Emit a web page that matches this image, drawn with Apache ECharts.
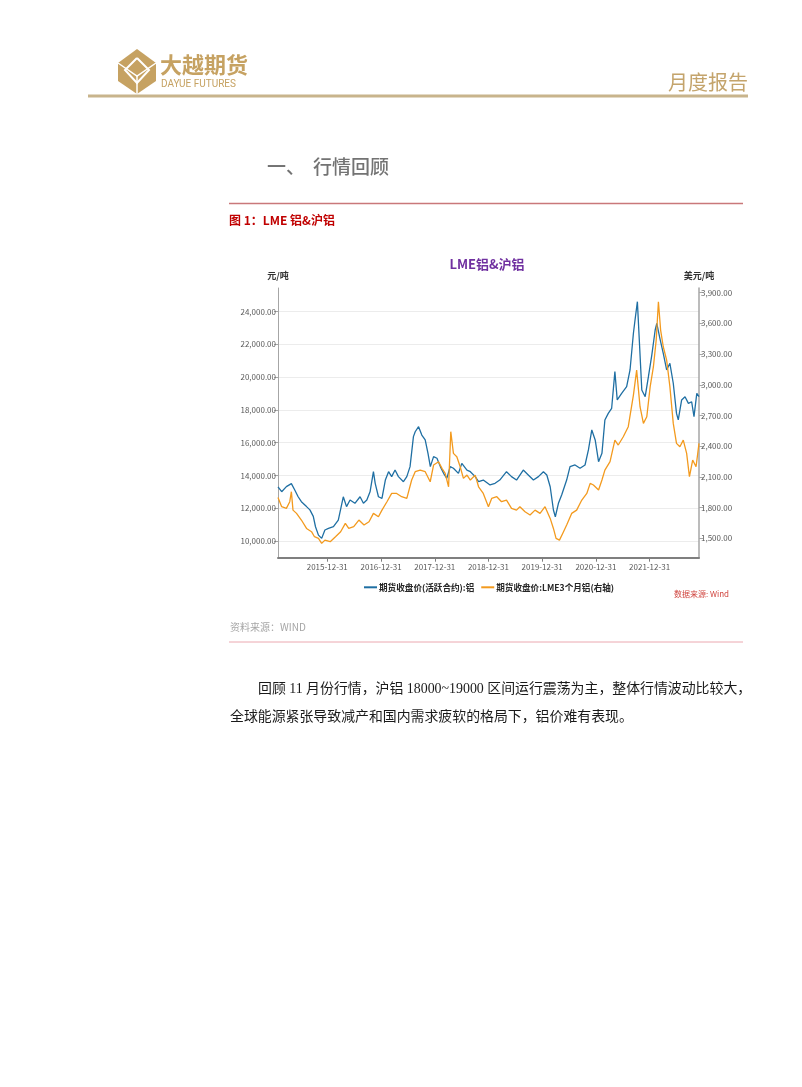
<!DOCTYPE html>
<html><head><meta charset="utf-8">
<script src="https://cdn.jsdelivr.net/npm/echarts@6.0.0/dist/echarts.min.js"></script>
<style>html,body{margin:0;padding:0;background:#fff;}#main{width:802px;height:1087px;}</style>
</head><body><div id="main"></div>
<script>
// ---- data ----
const shDates = ['2015-01-30','2015-02-24','2015-03-28','2015-05-01','2015-05-24','2015-06-16','2015-07-08','2015-08-12','2015-09-04','2015-09-27','2015-10-12','2015-11-01','2015-11-23','2015-12-15','2016-01-08','2016-02-11','2016-03-15','2016-04-18','2016-05-10','2016-06-03','2016-07-06','2016-08-10','2016-09-02','2016-09-25','2016-10-17','2016-11-09','2016-11-21','2016-12-13','2017-01-06','2017-01-29','2017-02-20','2017-03-13','2017-04-05','2017-04-28','2017-06-01','2017-06-24','2017-07-16','2017-08-08','2017-08-20','2017-09-12','2017-10-04','2017-10-27','2017-11-15','2017-12-01','2017-12-23','2018-01-15','2018-02-07','2018-03-01','2018-03-23','2018-04-15','2018-05-07','2018-06-10','2018-07-03','2018-08-07','2018-08-30','2018-10-02','2018-10-25','2018-11-26','2019-01-11','2019-02-14','2019-03-18','2019-05-03','2019-06-06','2019-07-10','2019-08-25','2019-09-28','2019-11-02','2019-12-06','2020-01-09','2020-02-01','2020-02-24','2020-03-17','2020-03-30','2020-04-20','2020-05-12','2020-06-15','2020-07-08','2020-08-11','2020-09-14','2020-10-18','2020-11-10','2020-12-03','2020-12-26','2021-01-18','2021-02-10','2021-03-02','2021-03-25','2021-04-17','2021-05-09','2021-05-25','2021-06-24','2021-07-28','2021-08-20','2021-09-12','2021-09-23','2021-10-09','2021-10-22','2021-11-08','2021-12-01','2021-12-23','2022-01-15','2022-02-07','2022-02-18','2022-03-11','2022-04-03','2022-04-26','2022-05-18','2022-06-10','2022-07-02','2022-07-14','2022-08-06','2022-08-29','2022-09-21','2022-10-13','2022-10-29','2022-11-17','2022-12-02'];
const shValues = [13300,13010,13316,13500,13110,12700,12400,12100,11900,11500,10870,10360,10160,10670,10770,10870,11280,12700,12100,12500,12300,12700,12300,12500,13000,14230,13520,12700,12600,13720,14230,13930,14330,13930,13620,13930,14540,16370,16670,16980,16470,16170,15350,14540,15150,15050,14540,14130,13820,14540,14440,14130,14740,14330,14230,13930,13620,13720,13420,13520,13720,14230,13930,13720,14330,14030,13720,13930,14230,14030,13310,11890,11480,12300,12810,13720,14540,14640,14440,14640,15560,16780,16170,14840,15350,17390,17790,18100,20340,18610,19010,19420,20440,22680,23490,24610,22270,19220,18810,20030,21350,22880,23290,22370,21460,20440,20850,19630,17790,17390,18610,18810,18400,18500,17590,19010,18810];

const lmeDates = ['2015-01-30','2015-02-24','2015-03-28','2015-04-20','2015-05-01','2015-05-12','2015-06-05','2015-07-08','2015-08-12','2015-09-15','2015-10-05','2015-11-01','2015-11-23','2015-12-15','2016-01-20','2016-02-25','2016-03-31','2016-05-02','2016-05-25','2016-06-28','2016-08-02','2016-09-06','2016-10-10','2016-11-09','2016-12-13','2017-01-06','2017-02-09','2017-03-13','2017-04-16','2017-05-20','2017-06-24','2017-07-27','2017-08-20','2017-09-23','2017-10-27','2017-11-30','2017-12-23','2018-01-26','2018-02-18','2018-03-12','2018-04-04','2018-04-19','2018-05-07','2018-05-30','2018-06-22','2018-07-14','2018-08-07','2018-08-30','2018-10-02','2018-10-25','2018-11-26','2018-12-31','2019-01-22','2019-02-26','2019-03-30','2019-05-03','2019-06-06','2019-07-10','2019-08-02','2019-09-06','2019-10-10','2019-11-13','2019-12-17','2020-01-20','2020-02-24','2020-03-17','2020-04-04','2020-04-27','2020-05-19','2020-06-15','2020-07-19','2020-08-22','2020-09-26','2020-10-30','2020-11-22','2020-12-14','2021-01-18','2021-02-10','2021-03-02','2021-04-06','2021-05-09','2021-06-01','2021-07-05','2021-08-08','2021-09-12','2021-10-04','2021-10-27','2021-11-19','2021-12-12','2022-01-04','2022-01-26','2022-02-14','2022-03-01','2022-03-16','2022-04-03','2022-04-26','2022-05-18','2022-06-10','2022-07-02','2022-07-25','2022-08-17','2022-09-09','2022-09-28','2022-10-20','2022-11-12','2022-12-02'];
const lmeValues = [1900,1809,1793,1858,1956,1776,1744,1679,1597,1565,1516,1500,1451,1483,1467,1516,1565,1646,1597,1614,1679,1630,1662,1744,1711,1776,1858,1939,1939,1907,1890,2070,2151,2167,2151,2053,2216,2249,2184,2135,2004,2542,2330,2298,2200,2086,2118,2070,2118,2004,1939,1809,1890,1907,1858,1874,1793,1776,1809,1760,1728,1776,1744,1809,1695,1597,1500,1483,1548,1630,1744,1776,1874,1939,2037,2021,1972,2070,2167,2249,2460,2412,2493,2591,2900,3144,2786,2623,2688,2982,3177,3438,3812,3535,3372,3242,2982,2623,2428,2395,2460,2330,2102,2265,2200,2428];

const leftTicks = [10000,12000,14000,16000,18000,20000,22000,24000];
const rightTicks = [1500,1800,2100,2400,2700,3000,3300,3600,3900];
const xTickLabels = ['2015-12-31','2016-12-31','2017-12-31','2018-12-31','2019-12-31','2020-12-31','2021-12-31'];
const seriesNames = ['期货收盘价(活跃合约):铝','期货收盘价:LME3个月铝(右轴)'];

// ---- helpers ----
function toTime(s){ const p = s.split('-'); return Date.UTC(+p[0], +p[1]-1, +p[2]); }
function pad(n){ return (n<10?'0':'')+n; }
function fmtDate(v){ const d = new Date(v); return d.getUTCFullYear()+'-'+pad(d.getUTCMonth()+1)+'-'+pad(d.getUTCDate()); }
function fmtNum(v){ return Number(v).toLocaleString('en-US',{minimumFractionDigits:2,maximumFractionDigits:2}); }
const xTickValues = xTickLabels.map(toTime);
const shData = shDates.map((d,i)=>[toTime(d), shValues[i]]);
const lmeData = lmeDates.map((d,i)=>[toTime(d), lmeValues[i]]);

const FONT = "'Noto Sans CJK SC','Microsoft YaHei',sans-serif";
const SERIF = "'Liberation Serif','Noto Sans CJK SC',serif";
const GOLD = '#c6a262';

const chart = echarts.init(document.getElementById('main'), null, {renderer:'canvas'});
chart.setOption({
  backgroundColor:'#fff',
  animation:false,
  textStyle:{fontFamily:FONT},
  grid:{left:278, right:103, top:288, bottom:529.3, containLabel:false},
  legend:{
    left:359, top:578, icon:'rect', itemWidth:13, itemHeight:2, itemGap:7,
    textStyle:{fontSize:8.6, fontWeight:'bold', color:'#262626', fontFamily:FONT, padding:[0,0,0,-3]},
    data:seriesNames
  },
  xAxis:{
    type:'value', min:toTime('2015-01-30'), max:toTime('2022-12-02'),
    axisLine:{show:true, lineStyle:{color:'#7f7f7f', width:2}},
    axisTick:{show:true, length:4, customValues:xTickValues, lineStyle:{color:'#7f7f7f'}},
    axisLabel:{customValues:xTickValues, formatter:fmtDate, fontSize:8, color:'#595959', margin:5, fontFamily:FONT},
    splitLine:{show:false}
  },
  yAxis:[{
    type:'value', position:'left', min:8980, max:25445,
    name:'元/吨', nameLocation:'end', nameGap:8,
    nameTextStyle:{fontSize:9, fontWeight:'bold', color:'#333', fontFamily:FONT},
    axisLine:{show:true, lineStyle:{color:'#a6a6a6', width:1}},
    axisTick:{show:true, length:4, customValues:leftTicks, lineStyle:{color:'#a6a6a6'}},
    axisLabel:{customValues:leftTicks, formatter:fmtNum, fontSize:8, color:'#595959', margin:2, fontFamily:FONT},
    splitLine:{show:true, lineStyle:{color:'#ececec', width:1}}
  },{
    type:'value', position:'right', min:1311, max:3946,
    name:'美元/吨', nameLocation:'end', nameGap:8,
    nameTextStyle:{fontSize:9, fontWeight:'bold', color:'#333', fontFamily:FONT},
    axisLine:{show:true, lineStyle:{color:'#a6a6a6', width:1.5}},
    axisTick:{show:true, length:4, customValues:rightTicks, lineStyle:{color:'#a6a6a6'}},
    axisLabel:{customValues:rightTicks, formatter:fmtNum, fontSize:8, color:'#595959', margin:2, fontFamily:FONT},
    splitLine:{show:false}
  }],
  series:[{
    name:seriesNames[0], type:'line', yAxisIndex:0, data:shData, showSymbol:false, symbol:'none',
    lineStyle:{color:'#1f6fa3', width:1.3}, itemStyle:{color:'#1f6fa3'}
  },{
    name:seriesNames[1], type:'line', yAxisIndex:1, data:lmeData, showSymbol:false, symbol:'none',
    lineStyle:{color:'#f39a1e', width:1.3}, itemStyle:{color:'#f39a1e'}
  }],
  graphic:[
    {type:'polygon', shape:{points:[[137,49],[156,63],[156,81],[137,94],[118,81],[118,63]]}, style:{fill:GOLD}},
    {type:'polyline', shape:{points:[[137,58],[149,70],[137,83],[125,70],[137,58]]}, style:{stroke:'#fff', lineWidth:2, fill:null}},
    {type:'polyline', shape:{points:[[118,63],[137,76],[156,63]]}, style:{stroke:'#fff', lineWidth:1.5, fill:null}},
    {type:'line', shape:{x1:137,y1:76,x2:137,y2:94}, style:{stroke:'#fff', lineWidth:1.5}},
    {type:'text', style:{text:'大越期货', x:160, y:65, fontSize:22, fontWeight:'bold', fill:GOLD, fontFamily:FONT, textVerticalAlign:'middle'}},
    {type:'text', style:{text:'DAYUE FUTURES', x:161, y:84, fontSize:10, fill:GOLD, fontFamily:"'Roboto','Noto Sans',sans-serif", textVerticalAlign:'middle'}},
    {type:'text', style:{text:'月度报告', x:748, y:82, fontSize:20, fill:'#c4a46c', fontFamily:FONT, textAlign:'right', textVerticalAlign:'middle'}},
    {type:'line', shape:{x1:88,y1:96,x2:748,y2:96}, style:{stroke:'#c8b48c', lineWidth:3}},
    {type:'text', style:{text:'一、', x:267, y:167, fontSize:19, fontWeight:500, fill:'#737373', fontFamily:FONT, textVerticalAlign:'middle'}},
    {type:'text', style:{text:'行情回顾', x:313, y:167, fontSize:19, fontWeight:500, fill:'#737373', fontFamily:FONT, textVerticalAlign:'middle'}},
    {type:'line', shape:{x1:229,y1:203.5,x2:743,y2:203.5}, style:{stroke:'#c9787a', lineWidth:1.5}},
    {type:'text', style:{text:'图 1：LME 铝&沪铝', x:229, y:220, fontSize:12, fontWeight:'bold', fill:'#c00000', fontFamily:FONT, textVerticalAlign:'middle'}},
    {type:'text', style:{text:'LME铝&沪铝', x:487, y:264, fontSize:13, fontWeight:'bold', fill:'#7030a0', fontFamily:FONT, textAlign:'center', textVerticalAlign:'middle'}},
    {type:'text', style:{text:'数据来源: Wind', x:729, y:594, fontSize:8, fill:'#d0453f', fontFamily:FONT, textAlign:'right', textVerticalAlign:'middle'}},
    {type:'text', style:{text:'资料来源：WIND', x:230, y:627, fontSize:10, fill:'#a6a6a6', fontFamily:FONT, textVerticalAlign:'middle'}},
    {type:'line', shape:{x1:229,y1:642,x2:743,y2:642}, style:{stroke:'#eba8b0', lineWidth:1}},
    {type:'text', style:{text:'回顾 11 月份行情，沪铝 18000~19000 区间运行震荡为主，整体行情波动比较大，', x:258, y:689, fontSize:13.9, fill:'#1a1a1a', fontFamily:SERIF, textVerticalAlign:'middle'}},
    {type:'text', style:{text:'全球能源紧张导致减产和国内需求疲软的格局下，铝价难有表现。', x:230, y:717, fontSize:13.9, fill:'#1a1a1a', fontFamily:SERIF, textVerticalAlign:'middle'}}
  ]
});
</script>
</body></html>
